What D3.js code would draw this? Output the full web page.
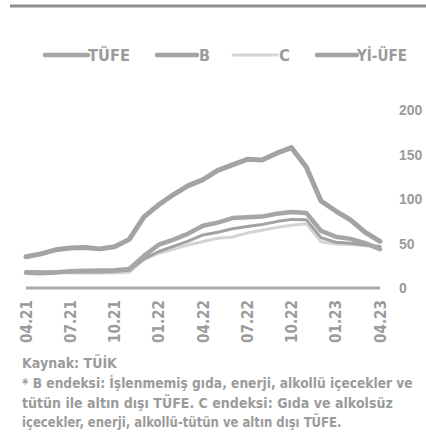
<!DOCTYPE html>
<html>
<head>
<meta charset="utf-8">
<script src="https://cdn.jsdelivr.net/npm/d3@7"></script>
<style>
  html, body { margin: 0; padding: 0; background: #fff; }
  svg { display: block; }
  text { font-family: "DejaVu Sans", "Liberation Sans", sans-serif; font-weight: bold; fill: #9b9b9b; }
  .ylab { font-family: "Liberation Sans", Arial, sans-serif; }
</style>
</head>
<body>
<svg id="chart" width="426" height="440"></svg>
<script>
// Monthly annual change (%), April 2021 – April 2023
const months = ["04.21","05.21","06.21","07.21","08.21","09.21","10.21","11.21","12.21",
                "01.22","02.22","03.22","04.22","05.22","06.22","07.22","08.22","09.22",
                "10.22","11.22","12.22","01.23","02.23","03.23","04.23"];
const tufe  = [17.14,16.59,17.53,18.95,19.25,19.58,19.89,21.31,36.08,48.69,54.44,61.14,69.97,
               73.50,78.62,79.60,80.21,83.45,85.51,84.39,64.27,57.68,55.18,50.51,43.68];
const coreB = [18.5,18.3,18.2,17.9,17.9,18.0,18.4,19.9,32.8,41.0,46.7,52.7,59.6,
               62.6,66.5,69.1,71.4,74.6,77.1,76.8,56.6,51.4,50.4,48.4,46.6];
const coreC = [18.0,18.0,17.7,16.9,16.8,16.9,16.8,17.6,31.9,39.1,43.6,48.4,52.2,
               56.0,57.3,61.7,64.8,68.1,70.5,72.3,51.9,49.3,48.9,47.4,45.6];
const yiufe = [35.17,38.33,42.89,44.92,45.52,43.96,46.31,54.62,79.89,93.53,105.01,114.97,121.82,
               132.16,138.31,144.61,143.75,151.50,157.69,136.02,97.72,86.46,76.61,62.45,52.44];
const xTickLabels = ["04.21","07.21","10.21","01.22","04.22","07.22","10.22","01.23","04.23"];
const yTicks = [0, 50, 100, 150, 200];
const seriesNames = ["TÜFE", "B", "C", "Yİ-ÜFE"];
const sourceNote = "Kaynak: TÜİK";
const footNotes = [
  "* B endeksi: İşlenmemiş gıda, enerji, alkollü içecekler ve",
  "tütün ile altın dışı TÜFE. C endeksi: Gıda ve alkolsüz",
  "içecekler, enerji, alkollü-tütün ve altın dışı TÜFE."
];

const svg = d3.select("#chart");
svg.append("rect").attr("width", 426).attr("height", 440).attr("fill", "#fff");

// top rule
svg.append("line").attr("x1", 10).attr("x2", 426).attr("y1", 6).attr("y2", 6)
  .attr("stroke", "#8e8e8e").attr("stroke-width", 3);

const x = d3.scalePoint().domain(months).range([26, 380]);
const y = d3.scaleLinear().domain([0, 200]).range([288, 110]);

// line styles per series
const styles = {
  "TÜFE":   { data: tufe,  color: "#a6a6a6", width: 4.5 },
  "B":      { data: coreB, color: "#a2a2a2", width: 3 },
  "C":      { data: coreC, color: "#d4d4d4", width: 3 },
  "Yİ-ÜFE": { data: yiufe, color: "#a3a3a3", width: 5 }
};

// zero axis line
svg.append("line").attr("x1", x(months[0])).attr("x2", x(months[months.length - 1]))
  .attr("y1", y(0)).attr("y2", y(0)).attr("stroke", "#a9a9a9").attr("stroke-width", 3);

const line = d3.line().x((d, i) => x(months[i])).y(d => y(d)).curve(d3.curveLinear);

["C", "B", "TÜFE", "Yİ-ÜFE"].forEach(name => {
  const s = styles[name];
  svg.append("path").datum(s.data).attr("d", line)
    .attr("fill", "none").attr("stroke", s.color).attr("stroke-width", s.width)
    .attr("stroke-linejoin", "round").attr("stroke-linecap", "round");
});

// right-hand value axis labels
svg.append("g").selectAll("text").data(yTicks).join("text")
  .attr("class", "ylab")
  .attr("x", 399).attr("y", d => y(d)).attr("dy", "0.36em")
  .attr("font-size", 14)
  .text(d => d);

// rotated month labels
svg.append("g").selectAll("text").data(xTickLabels).join("text")
  .attr("transform", d => `translate(${x(d) + 5.5},300) rotate(-90)`)
  .attr("text-anchor", "end").attr("font-size", 15)
  .attr("textLength", 43).attr("lengthAdjust", "spacingAndGlyphs")
  .text(d => d);

// legend
const legendItems = [
  { name: "TÜFE",   x1: 45,  x2: 88,  tx: 88,  tw: 42 },
  { name: "B",      x1: 157, x2: 197, tx: 199, tw: 11 },
  { name: "C",      x1: 233, x2: 277, tx: 279, tw: 11 },
  { name: "Yİ-ÜFE", x1: 317, x2: 357, tx: 357, tw: 50 }
];
const lg = svg.append("g");
legendItems.forEach(item => {
  const s = styles[item.name];
  lg.append("line").attr("x1", item.x1).attr("x2", item.x2).attr("y1", 55).attr("y2", 55)
    .attr("stroke", s.color).attr("stroke-width", item.name === "C" ? 3 : 4.5)
    .attr("stroke-linecap", "round");
  lg.append("text").attr("x", item.tx).attr("y", 60.5).attr("font-size", 15)
    .attr("textLength", item.tw).attr("lengthAdjust", "spacingAndGlyphs")
    .text(item.name);
});

// source and notes: each line is squeezed horizontally to its set width
function fittedLine(str, yPos, width) {
  const t = svg.append("text").attr("font-size", 14).text(str);
  const natural = t.node().getComputedTextLength();
  t.attr("transform", `translate(22,${yPos}) scale(${width / natural},1)`);
}
fittedLine(sourceNote, 368, 95);
const noteLens = [391, 371, 320];
const noteY = [388, 408, 427];
footNotes.forEach((t, i) => fittedLine(t, noteY[i], noteLens[i]));
</script>
</body>
</html>
